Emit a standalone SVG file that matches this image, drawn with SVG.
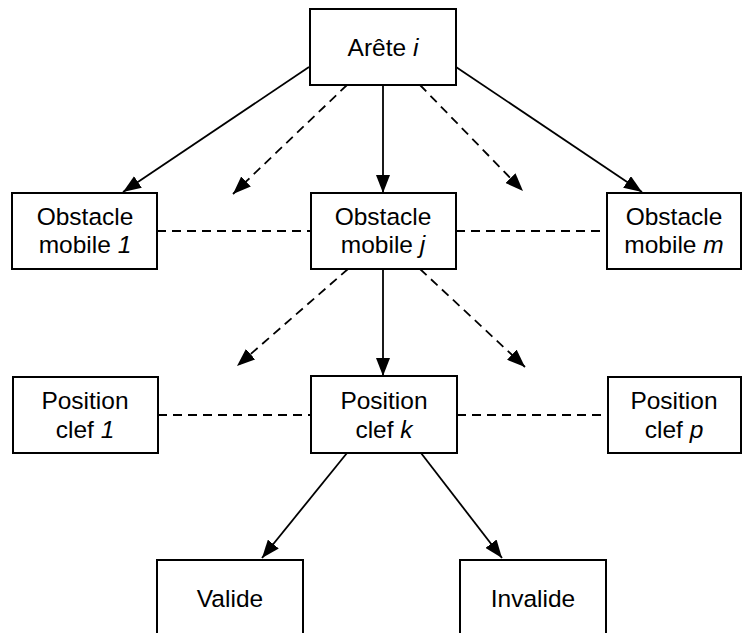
<svg xmlns="http://www.w3.org/2000/svg" width="744" height="633" viewBox="0 0 744 633">
<defs>
<style>
.box{fill:#fff;stroke:#000;stroke-width:2}
.t{font-family:"Liberation Sans",Arial,sans-serif;font-size:24.5px;fill:#000;text-anchor:middle}
.i{font-style:italic}
.s{stroke:#000;stroke-width:1.8;fill:none}
.d{stroke:#000;stroke-width:1.8;fill:none;stroke-dasharray:9 6}
</style>
<marker id="ah" viewBox="0 0 18 14" refX="18" refY="7" markerWidth="18" markerHeight="14" markerUnits="userSpaceOnUse" orient="auto">
<path d="M0,0 L18,7 L0,14 Z" fill="#000"/>
</marker>
</defs>
<rect width="744" height="633" fill="#fff"/>
<g id="connectors">
<line class="s" x1="309" y1="67" x2="123" y2="192" marker-end="url(#ah)"/>
<line class="d" x1="347" y1="85" x2="233" y2="194" marker-end="url(#ah)"/>
<line class="s" x1="383" y1="85" x2="383" y2="193" marker-end="url(#ah)"/>
<line class="d" x1="420" y1="85" x2="523" y2="191" marker-end="url(#ah)"/>
<line class="s" x1="456" y1="67" x2="642" y2="192" marker-end="url(#ah)"/>
<line class="d" x1="157" y1="231" x2="311" y2="231"/>
<line class="d" x1="456" y1="231" x2="607" y2="231"/>
<line class="d" x1="348" y1="269" x2="237" y2="366" marker-end="url(#ah)"/>
<line class="s" x1="383" y1="269" x2="383" y2="376" marker-end="url(#ah)"/>
<line class="d" x1="420" y1="269" x2="525" y2="367" marker-end="url(#ah)"/>
<line class="d" x1="158" y1="415" x2="311" y2="415"/>
<line class="d" x1="457" y1="415" x2="608" y2="415"/>
<line class="s" x1="347" y1="453" x2="262" y2="558" marker-end="url(#ah)"/>
<line class="s" x1="421" y1="453" x2="502" y2="558" marker-end="url(#ah)"/>
</g>
<g id="arete">
<rect class="box" x="310" y="9" width="146" height="76"/>
<text class="t" x="383" y="56">Arête <tspan class="i">i</tspan></text>
</g>
<g id="obstacle1">
<rect class="box" x="12" y="193" width="145" height="76"/>
<text class="t" x="85" y="225">Obstacle</text>
<text class="t" x="85" y="253">mobile <tspan class="i">1</tspan></text>
</g>
<g id="obstaclej">
<rect class="box" x="311" y="193" width="145" height="76"/>
<text class="t" x="383" y="225">Obstacle</text>
<text class="t" x="383" y="253">mobile <tspan class="i">j</tspan></text>
</g>
<g id="obstaclem">
<rect class="box" x="607" y="193" width="134" height="76"/>
<text class="t" x="674" y="225">Obstacle</text>
<text class="t" x="674" y="253">mobile <tspan class="i">m</tspan></text>
</g>
<g id="position1">
<rect class="box" x="13" y="377" width="145" height="76"/>
<text class="t" x="85" y="409">Position</text>
<text class="t" x="85" y="438">clef <tspan class="i">1</tspan></text>
</g>
<g id="positionk">
<rect class="box" x="311" y="376" width="146" height="77"/>
<text class="t" x="384" y="409">Position</text>
<text class="t" x="384" y="438">clef <tspan class="i">k</tspan></text>
</g>
<g id="positionp">
<rect class="box" x="608" y="377" width="133" height="76"/>
<text class="t" x="674" y="409">Position</text>
<text class="t" x="674" y="438">clef <tspan class="i">p</tspan></text>
</g>
<g id="valide">
<rect class="box" x="157" y="560" width="146" height="90"/>
<text class="t" x="230" y="607">Valide</text>
</g>
<g id="invalide">
<rect class="box" x="460" y="560" width="146" height="90"/>
<text class="t" x="533" y="607">Invalide</text>
</g>
</svg>
